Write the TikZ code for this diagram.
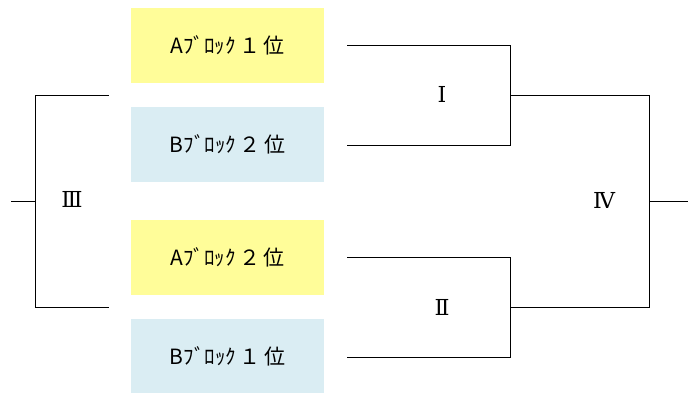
\documentclass[tikz,border=0pt]{standalone}
\usepackage{fontspec}
\newfontfamily\jpfont{Noto Sans CJK JP}
\newfontfamily\romfont{DejaVu Serif}
\definecolor{ybox}{HTML}{FFFD99}
\definecolor{bbox}{HTML}{DAEDF3}
\begin{document}
\begin{tikzpicture}[x=1pt,y=-1pt,
  team/.style={minimum width=193pt,minimum height=75pt,inner sep=0pt,font=\jpfont\fontsize{21}{25}\selectfont},
  rnum/.style={inner sep=0pt,font=\romfont\fontsize{22}{26}\selectfont},
  line/.style={line width=1pt,line cap=rect}]
\useasboundingbox (0,0) rectangle (688,392);
\node[team,fill=ybox] (a1) at (227.5,45.5) {Aﾌﾞﾛｯｸ\,１\,位};
\node[team,fill=bbox] (b2) at (227.5,144.5) {Bﾌﾞﾛｯｸ\,２\,位};
\node[team,fill=ybox] (a2) at (227.5,257) {Aﾌﾞﾛｯｸ\,２\,位};
\node[team,fill=bbox] (b1) at (227.5,356) {Bﾌﾞﾛｯｸ\,１\,位};
% bracket end points
\coordinate (i1) at (347,45);
\coordinate (i2) at (347,145);
\coordinate (ii1) at (347,257);
\coordinate (ii2) at (347,357);
\coordinate (iii1) at (108,95);
\coordinate (iii2) at (108,307);
\coordinate (iiiout) at (11,201);
\coordinate (ivout) at (688,201);
\node[rnum] (n1) at (442,94) {Ⅰ};
\node[rnum] (n2) at (442,307) {Ⅱ};
\node[rnum] (n3) at (72,199) {Ⅲ};
\node[rnum] (n4) at (604,200) {Ⅳ};
% bracket I
\draw[line] (i1) -- (510,45) -- (510,145) -- (i2);
\draw[line] (510,95) coordinate (iout) -- (649,95) -- (649,307) -- (510,307) coordinate (iiout);
% bracket II
\draw[line] (ii1) -- (510,257) -- (510,357) -- (ii2);
% bracket IV stub
\draw[line] (649,201) -- (ivout);
% bracket III
\draw[line] (iii1) -- (35,95) -- (35,307) -- (iii2);
\draw[line] (iiiout) -- (35,201);
\end{tikzpicture}
\end{document}
